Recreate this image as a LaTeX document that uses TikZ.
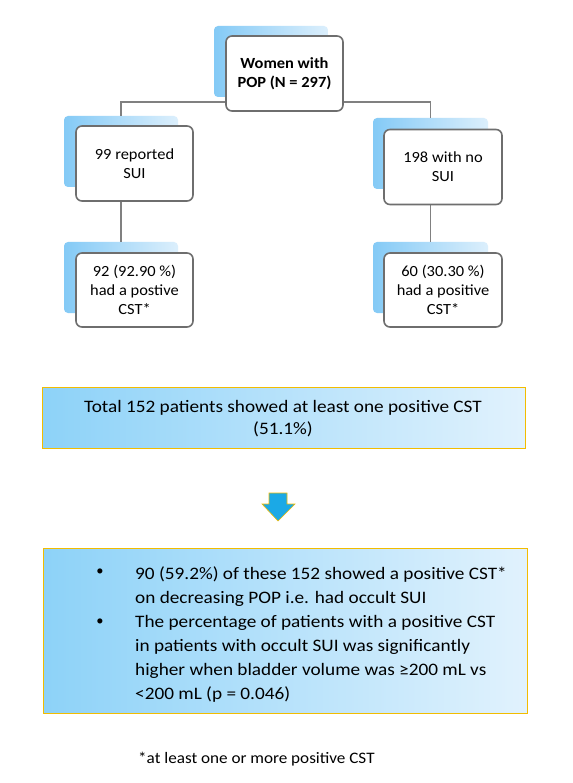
\documentclass[tikz,border=0pt]{standalone}
\usepackage{fontspec}
\setmainfont{Carlito}
\newfontfamily\boxfont[FakeStretch=1.06]{Carlito}
\newfontfamily\widefont[FakeStretch=1.1]{Carlito}
\newfontfamily\footfont[FakeStretch=1.07]{Carlito}
\begin{document}
\begin{tikzpicture}[x=1pt,y=-1pt,
  shadowbox/.style={draw=none,rounded corners=4pt,left color=shadL,right color=shadR,inner sep=0pt},
  whitebox/.style={draw=boxgray,line width=1.6pt,fill=white,rounded corners=6pt,inner sep=0pt,
    minimum width=117pt,minimum height=75pt,align=center,font=\boxfont\fontsize{15.5}{19}\selectfont},
  bigbox/.style={draw=gold,line width=0.9pt,left color=bigL,right color=bigR,inner sep=0pt},
  conn/.style={draw=conngray,line width=1.4pt},
  bodytext/.style={inner sep=0pt,align=left,font=\widefont\fontsize{17.5}{24}\selectfont}]
\definecolor{shadL}{HTML}{84CAF6}
\definecolor{shadR}{HTML}{DCEFFC}
\definecolor{boxgray}{HTML}{6E6E6E}
\definecolor{conngray}{HTML}{808080}
\definecolor{gold}{HTML}{F2BC00}
\definecolor{bigL}{HTML}{8DD2F8}
\definecolor{bigR}{HTML}{E1F2FD}
\definecolor{arrowblue}{HTML}{1BA9E6}
\useasboundingbox[fill=white] (0,0) rectangle (572,783);

% shadow rectangles (named, connectors attach to them)
\node[shadowbox,minimum width=114pt,minimum height=71pt] (topS) at (271,61.5) {};
\node[shadowbox,minimum width=114pt,minimum height=71pt] (l1S) at (121,151.5) {};
\node[shadowbox,minimum width=115pt,minimum height=71pt] (r1S) at (430.5,153.5) {};
\node[shadowbox,minimum width=114pt,minimum height=71pt] (l2S) at (121,277.5) {};
\node[shadowbox,minimum width=115pt,minimum height=71pt] (r2S) at (430.5,277.5) {};

% connectors
\draw[conn] (l1S.north) |- ([yshift=-5pt]topS.south) -| (r1S.north);
\draw[conn] (l1S.south) -- (l2S.north);
\draw[conn] (r1S.south) -- (r2S.north);

% white boxes
\node[whitebox] (top) at (284.5,73.5) {\bfseries Women with\\\bfseries POP (N = 297)};
\node[whitebox] (l1) at (134.5,163.5) {99 reported\\SUI};
\node[whitebox,minimum width=118pt] (r1) at (443,167) {198 with no\\SUI};
\node[whitebox,minimum height=74pt] (l2) at (134.5,290) {92 (92.90 \%)\\had a postive\\CST*};
\node[whitebox,minimum width=118pt,minimum height=74pt] (r2) at (443,290) {60 (30.30 \%)\\had a positive\\CST*};

% total box
\node[bigbox,minimum width=483pt,minimum height=61pt] (total) at (283.5,417.5) {};
\node[inner sep=0pt,align=center,font=\widefont\fontsize{17.5}{22}\selectfont] (totaltext) at (283,419)
  {Total 152 patients showed at least one positive CST\\(51.1\%)};

% arrow
\draw[draw=gold,line width=0.6pt,fill=arrowblue]
  (269,493) -- (287,493) -- (287,504) -- (295,504) -- (278,521) -- (262,504) -- (269,504) -- cycle;

% bottom box
\node[bigbox,minimum width=484pt,minimum height=165pt] (summary) at (285,630.5) {};
\node[bodytext,anchor=base west] (b1) at (135,603)
  {90 (59.2\%) of these 152 showed a positive CST*\\on decreasing POP i.e. had occult SUI};
\node[bodytext,anchor=base west] (b2) at (135,699)
  {The percentage of patients with a positive CST\\in patients with occult SUI was significantly\\higher when bladder volume was ≥200 mL vs\\<200 mL (p = 0.046)};
\node[inner sep=0pt,font=\fontsize{14.5}{18}\selectfont] (bul1) at (100,572) {\textbullet};
\node[inner sep=0pt,font=\fontsize{14.5}{18}\selectfont] (bul2) at (100,622) {\textbullet};

% footnote
\node[inner sep=0pt,anchor=west,font=\footfont\fontsize{16}{18}\selectfont] (foot) at (138,759)
  {*at least one or more positive CST};
\end{tikzpicture}
\end{document}
